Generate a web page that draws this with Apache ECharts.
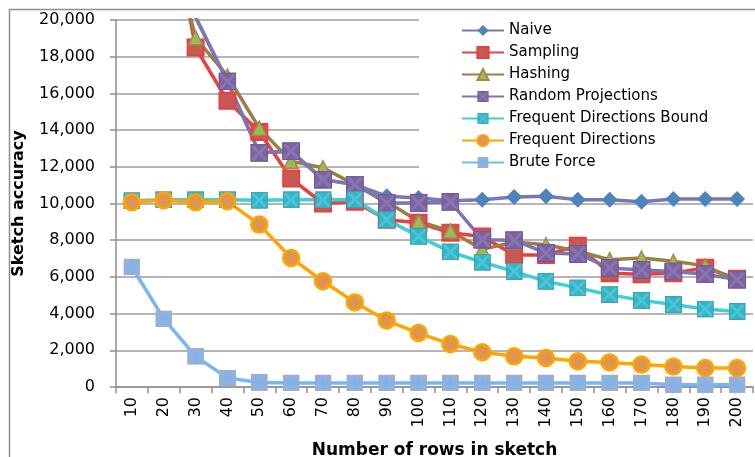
<!DOCTYPE html>
<html>
<head>
<meta charset="utf-8">
<script src="https://cdn.jsdelivr.net/npm/echarts@6/dist/echarts.min.js"></script>
<style>
html,body{margin:0;padding:0;background:#fff;}
#c{width:755px;height:457px;}
</style>
</head>
<body>
<div id="c"></div>
<script>
const categories = ['10','20','30','40','50','60','70','80','90','100','110','120','130','140','150','160','170','180','190','200'];
const naive = [45000, 30000, 20150, 16650, 12760, 12850, 11300, 11030, 10400, 10300, 10150, 10210, 10360, 10390, 10210, 10210, 10090, 10250, 10250, 10250];
const sampling = [40000, 27500, 18500, 15600, 13900, 11360, 10000, 10100, 9120, 8950, 8400, 8200, 7200, 7200, 7700, 6200, 6150, 6200, 6500, 5900];
const hashing = [38000, 26000, 19030, 16950, 14100, 12300, 11950, 11030, 10100, 9030, 8500, 7500, 7900, 7750, 7400, 6940, 7030, 6850, 6600, 5800];
const randomProjections = [45000, 30000, 20150, 16650, 12760, 12850, 11300, 11030, 10030, 10030, 10090, 8030, 8000, 7300, 7250, 6490, 6380, 6300, 6150, 5850];
const fdBound = [10150, 10200, 10200, 10200, 10180, 10200, 10200, 10220, 9120, 8210, 7360, 6800, 6300, 5760, 5400, 5030, 4720, 4490, 4250, 4120];
const frequentDirections = [10070, 10180, 10070, 10120, 8850, 7030, 5760, 4610, 3620, 2940, 2340, 1890, 1670, 1580, 1400, 1340, 1220, 1120, 1040, 1040];
const bruteForce = [6540, 3710, 1670, 490, 250, 220, 220, 220, 220, 220, 220, 220, 220, 220, 220, 220, 220, 120, 120, 120];
const yTicks = {min: 0, max: 20000, interval: 2000};

function svgSym(inner) {
  return 'image://data:image/svg+xml;charset=utf-8,' + encodeURIComponent(
    "<svg xmlns='http://www.w3.org/2000/svg' width='18' height='18' viewBox='0 0 18 18'>" + inner + "</svg>");
}
const symRP = svgSym("<rect width='18' height='18' fill='#7b62a0'/><path d='M2 2L16 16M16 2L2 16' stroke='#8a74b0' stroke-width='3'/><rect x='0.5' y='0.5' width='17' height='17' fill='none' stroke='#6e5a96' stroke-width='1'/>");
const symCyan = svgSym("<rect width='18' height='18' fill='#3cb1c4'/><path d='M2 2L16 16M16 2L2 16' stroke='#44c8d8' stroke-width='3'/><rect x='0.5' y='0.5' width='17' height='17' fill='none' stroke='#3a9fb4' stroke-width='1'/>");
const symBrute = svgSym("<rect width='18' height='18' fill='#98b0d8'/><path d='M9 2V16M2 9H16' stroke='#7eb4ec' stroke-width='3'/>");

const FONT = 'DejaVu Sans';
const chart = echarts.init(document.getElementById('c'), null, {renderer: 'canvas'});

function lineSeries(name, data, color, symbol, size, itemStyle) {
  return {
    name: name, type: 'line', data: data,
    symbol: symbol, symbolSize: size, showAllSymbol: true,
    clip: true,
    lineStyle: {color: color, width: 3.5},
    itemStyle: Object.assign({color: color}, itemStyle || {}),
    emphasis: {disabled: true},
    animation: false
  };
}

chart.setOption({
  animation: false,
  backgroundColor: '#fff',
  graphic: [{
    type: 'rect', left: 7, top: 7, shape: {width: 800, height: 500},
    style: {fill: null, stroke: '#8e8e8e', lineWidth: 1.5}, silent: true, z: 0
  }],
  grid: {left: 116, right: 2, top: 20, bottom: 70, containLabel: false, outerBoundsMode: 'none'},
  legend: {
    orient: 'vertical', left: 419, top: 15,
    padding: [8, 60, 8, 42],
    backgroundColor: '#fff',
    itemWidth: 42, itemHeight: 14, itemGap: 7,
    textStyle: {fontFamily: FONT, fontSize: 15, color: '#000'},
    data: ['Naive', 'Sampling', 'Hashing', 'Random Projections', 'Frequent Directions Bound', 'Frequent Directions', 'Brute Force']
  },
  xAxis: {
    type: 'category', data: categories, boundaryGap: true,
    name: 'Number of rows in sketch', nameLocation: 'middle', nameGap: 55,
    nameTextStyle: {fontFamily: FONT, fontSize: 17, fontWeight: 'bold', color: '#000'},
    axisLine: {show: true, lineStyle: {color: '#8e8e8e', width: 1.5}},
    axisTick: {show: true, length: 6, interval: 0, lineStyle: {color: '#8e8e8e', width: 1.5}},
    axisLabel: {rotate: 90, interval: 0, margin: 10, fontFamily: FONT, fontSize: 16, color: '#000'},
    splitLine: {show: false}
  },
  yAxis: {
    type: 'value', min: yTicks.min, max: yTicks.max, interval: yTicks.interval,
    name: 'Sketch accuracy', nameLocation: 'middle', nameGap: 89,
    nameTextStyle: {fontFamily: FONT, fontSize: 16, fontWeight: 'bold', color: '#000'},
    axisLine: {show: true, lineStyle: {color: '#8e8e8e', width: 1.5}},
    axisTick: {show: true, length: 6, lineStyle: {color: '#8e8e8e', width: 1.5}},
    axisLabel: {margin: 21, fontFamily: FONT, fontSize: 16, color: '#000',
      formatter: v => v.toLocaleString('en-US')},
    splitLine: {show: true, lineStyle: {color: '#9c9c9c', width: 1.5}}
  },
  series: [
    lineSeries('Naive', naive, '#7878b4', 'diamond', 16, {color: '#4f83be'}),
    lineSeries('Sampling', sampling, '#e8403e', 'rect', 16, {color: '#c55a55', borderColor: '#e8403e', borderWidth: 2}),
    lineSeries('Hashing', hashing, '#9c7f45', 'triangle', 14, {color: '#9bbb59', borderColor: '#a8884a', borderWidth: 1.5}),
    lineSeries('Random Projections', randomProjections, '#7a77b3', symRP, 18),
    lineSeries('Frequent Directions Bound', fdBound, '#3ed0d6', symCyan, 17),
    lineSeries('Frequent Directions', frequentDirections, '#ffa500', 'circle', 16, {color: '#e0954e', borderColor: '#ffa500', borderWidth: 2.5}),
    lineSeries('Brute Force', bruteForce, '#76b6f6', symBrute, 17)
  ]
});
</script>
</body>
</html>
